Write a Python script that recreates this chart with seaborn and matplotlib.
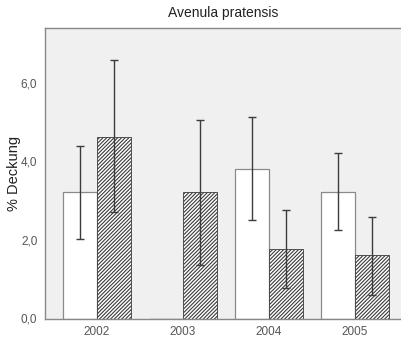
import matplotlib
matplotlib.use("Agg")
import matplotlib.pyplot as plt
import matplotlib.ticker as mticker
import seaborn as sns
import pandas as pd
import numpy as np

years = ["2002", "2003", "2004", "2005"]
groups = ["A", "B"]
values_a = [3.22, 0.0, 3.82, 3.22]
values_b = [4.62, 3.21, 1.77, 1.62]
err_low_a = [2.02, 0.0, 2.51, 2.25]
err_high_a = [4.39, 0.0, 5.13, 4.21]
err_low_b = [2.71, 1.36, 0.78, 0.60]
err_high_b = [6.58, 5.06, 2.76, 2.59]
yticks = [0, 2, 4, 6]

sns.set_style("white")
plt.rcParams['font.family'] = ['Liberation Sans', 'DejaVu Sans']
plt.rcParams['hatch.linewidth'] = 0.8

df = pd.DataFrame({
    "year": years * 2,
    "group": [groups[0]] * 4 + [groups[1]] * 4,
    "value": values_a + values_b,
})

fig = plt.figure(figsize=(4.02, 3.38), dpi=100)
ax = fig.add_axes([45/402, 19.5/338, 357/402, 290.5/338])
ax.set_facecolor("#f0f0f0")

sns.barplot(data=df, x="year", y="value", hue="group", order=years,
            hue_order=groups, palette=["white", "white"], errorbar=None,
            width=0.8, ax=ax, legend=False)

bars_a = ax.containers[0]
bars_b = ax.containers[1]
for p, v in zip(bars_a, values_a):
    p.set_edgecolor("#8a8a8a" if v > 0 else "#555555")
    p.set_linewidth(0.9)
for p in bars_b:
    p.set_edgecolor("#3a3a3a")
    p.set_hatch("/////////")
    p.set_linewidth(0.6)

def add_err(bars, vals, lo, hi):
    xs = [p.get_x() + p.get_width() / 2 for p in bars]
    for x, v, l, h in zip(xs, vals, lo, hi):
        if v == 0 and l == 0 and h == 0:
            continue
        ax.errorbar([x], [v], yerr=[[v - l], [h - v]], fmt="none",
                    ecolor="#3c3c3c", elinewidth=1.0, capsize=3.2, capthick=1.0,
                    zorder=5)

add_err(bars_a, values_a, err_low_a, err_high_a)
add_err(bars_b, values_b, err_low_b, err_high_b)

ax.set_xlim(-0.605, 3.547)
ax.set_ylim(0, 7.4)
ax.set_yticks(yticks)
ax.yaxis.set_major_formatter(mticker.FuncFormatter(lambda v, p: f"{v:.1f}".replace(".", ",")))
ax.set_xlabel("")
ax.set_ylabel("% Deckung", fontsize=10.5, color="#222222", labelpad=0)
ax.set_title("Avenula pratensis", fontsize=10, color="#222222", pad=8)

for s in ["left", "bottom", "top"]:
    ax.spines[s].set_color("#888888")
    ax.spines[s].set_linewidth(1.0)
ax.spines["right"].set_visible(False)
ax.tick_params(axis="both", direction="out", length=4, width=0.9, color="#666666",
               labelsize=8.5, labelcolor="#555555", pad=1.5)

fig.savefig("out.png", dpi=100)
